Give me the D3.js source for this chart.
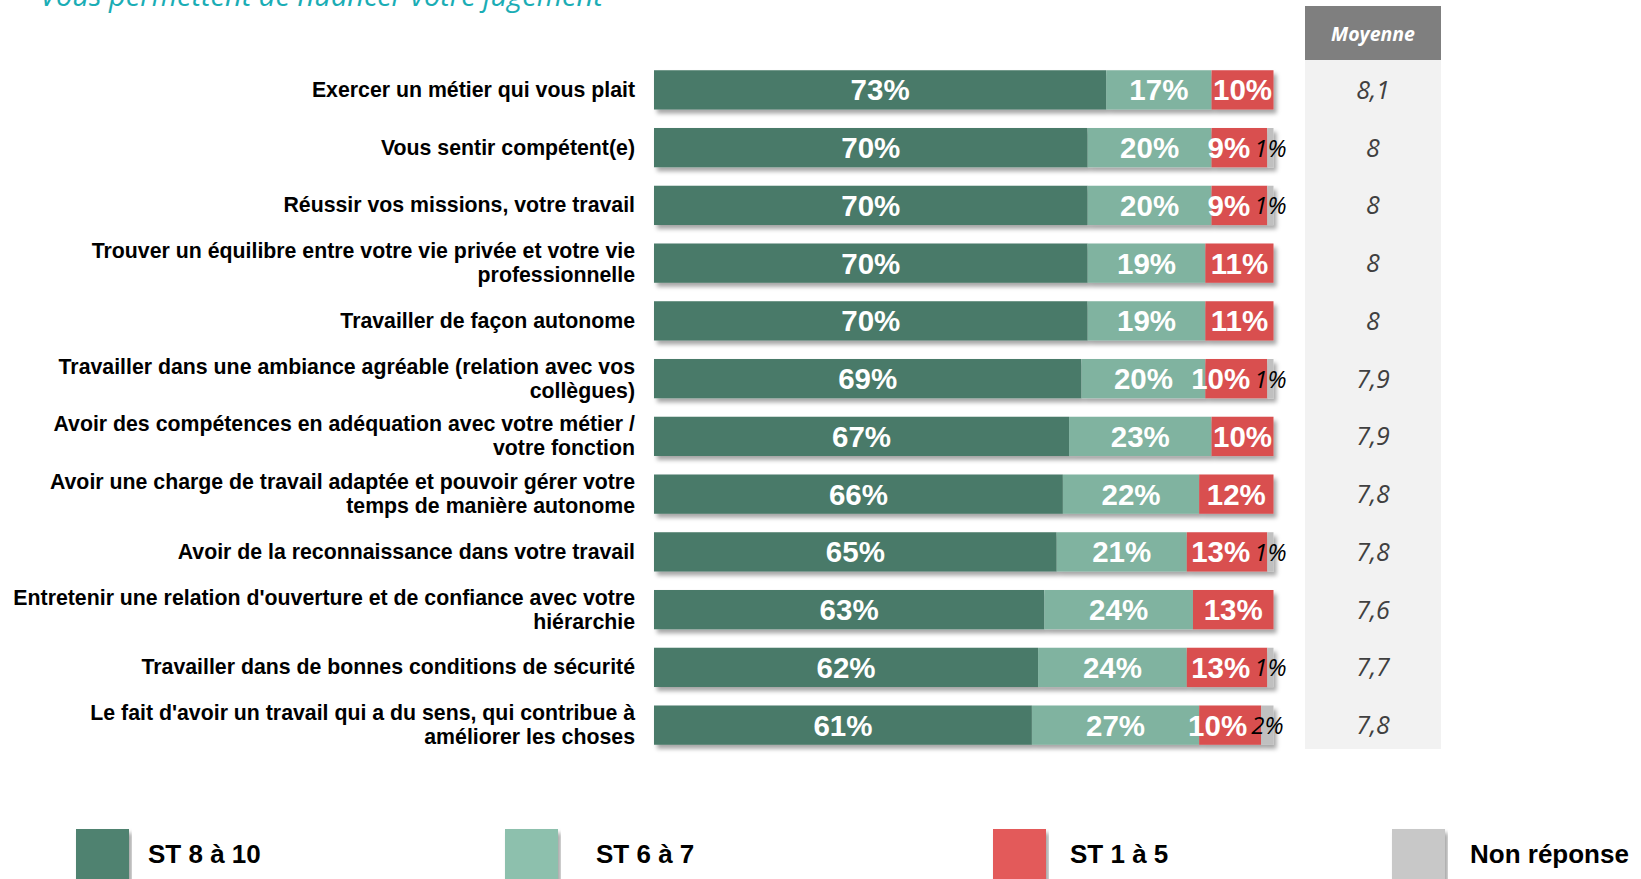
<!DOCTYPE html>
<html>
<head>
<meta charset="utf-8">
<script src="https://cdn.jsdelivr.net/npm/d3@7"></script>
<style>
  body { margin: 0; background: #fff; }
  svg { display: block; }
</style>
</head>
<body>
<svg id="chart"></svg>
<script>
// data
const labels = [
  ["Exercer un métier qui vous plait"],
  ["Vous sentir compétent(e)"],
  ["Réussir vos missions, votre travail"],
  ["Trouver un équilibre entre votre vie privée et votre vie", "professionnelle"],
  ["Travailler de façon autonome"],
  ["Travailler dans une ambiance agréable (relation avec vos", "collègues)"],
  ["Avoir des compétences en adéquation avec votre métier /", "votre fonction"],
  ["Avoir une charge de travail adaptée et pouvoir gérer votre", "temps de manière autonome"],
  ["Avoir de la reconnaissance dans votre travail"],
  ["Entretenir une relation d'ouverture et de confiance avec votre", "hiérarchie"],
  ["Travailler dans de bonnes conditions de sécurité"],
  ["Le fait d'avoir un travail qui a du sens, qui contribue à", "améliorer les choses"]
];
const st8a10 = [73, 70, 70, 70, 70, 69, 67, 66, 65, 63, 62, 61];
const st6a7 = [17, 20, 20, 19, 19, 20, 23, 22, 21, 24, 24, 27];
const st1a5 = [10, 9, 9, 11, 11, 10, 10, 12, 13, 13, 13, 10];
const nonReponse = [0, 1, 1, 0, 0, 1, 0, 0, 1, 0, 1, 2];
const moyenne = ["8,1", "8", "8", "8", "8", "7,9", "7,9", "7,8", "7,8", "7,6", "7,7", "7,8"];
const seriesNames = ["ST 8 à 10", "ST 6 à 7", "ST 1 à 5", "Non réponse"];
const title = "Vous permettent de nuancer votre jugement";

const W = 1641, H = 879;
const barColors = ["#4a7a69", "#80b3a0", "#d94f50", "#c0c0c0"];
const legendColors = ["#4f8270", "#8dc0ad", "#e35a5a", "#c8c8c8"];

const svg = d3.select("#chart").attr("width", W).attr("height", H);

// drop shadow for the bars
const defs = svg.append("defs");
defs.append("filter").attr("id", "shadow")
  .attr("x", "-5%").attr("y", "-20%").attr("width", "110%").attr("height", "160%")
  .append("feDropShadow")
    .attr("dx", 3).attr("dy", 4).attr("stdDeviation", 2)
    .attr("flood-color", "#000").attr("flood-opacity", 0.35);

const idx = d3.range(labels.length);
const y = d3.scaleBand().domain(idx).range([61, 754]).paddingInner(0.32).paddingOuter(0.16);
const x = d3.scaleLinear().domain([0, 100]).range([654, 1273.5]);

// title (cut off at top in the reference)
svg.append("text")
  .attr("x", 40).attr("y", 6)
  .attr("font-family", "Open Sans").attr("font-style", "italic")
  .attr("font-size", 29).attr("fill", "#1aadb5")
  .text(title);

// Moyenne column
const mx0 = 1305, mx1 = 1441;
svg.append("rect").attr("x", mx0).attr("y", 60).attr("width", mx1 - mx0).attr("height", 689).attr("fill", "#f2f2f2");
svg.append("rect").attr("x", mx0).attr("y", 6).attr("width", mx1 - mx0).attr("height", 54).attr("fill", "#7f7f7f");
svg.append("text")
  .attr("x", (mx0 + mx1) / 2).attr("y", 41).attr("text-anchor", "middle")
  .attr("font-family", "Open Sans").attr("font-style", "italic").attr("font-weight", "bold")
  .attr("font-size", 19.5).attr("fill", "#fff")
  .text("Moyenne");

svg.append("g").selectAll("text").data(idx).join("text")
  .attr("x", (mx0 + mx1) / 2)
  .attr("y", i => y(i) + y.bandwidth() / 2 + 9)
  .attr("text-anchor", "middle")
  .attr("font-family", "Open Sans").attr("font-style", "italic")
  .attr("font-size", 25).attr("fill", "#404040")
  .text(i => moyenne[i]);

// category labels
const lab = svg.append("g").selectAll("text").data(idx).join("text")
  .attr("text-anchor", "end")
  .attr("font-family", "Liberation Sans, Arial, sans-serif").attr("font-weight", "bold")
  .attr("font-size", 21.3).attr("fill", "#000");
lab.each(function(i) {
  const lines = labels[i];
  const cy = y(i) + y.bandwidth() / 2;
  const top = cy - (lines.length - 1) * 12 + 7;
  d3.select(this).selectAll("tspan").data(lines).join("tspan")
    .attr("x", 635)
    .attr("y", (d, k) => top + k * 24)
    .text(d => d);
});

// stacked bars
const rows = idx.map(i => ({ i, vals: [st8a10[i], st6a7[i], st1a5[i], nonReponse[i]] }));
const segs = [];
rows.forEach(r => {
  let acc = 0;
  r.vals.forEach((v, s) => {
    segs.push({ i: r.i, s, v, x0: acc, x1: acc + v });
    acc += v;
  });
});

const barG = svg.append("g");
barG.selectAll("g").data(rows).join("g")
  .attr("filter", "url(#shadow)")
  .selectAll("rect").data(r => segs.filter(d => d.i === r.i && d.v > 0)).join("rect")
    .attr("x", d => x(d.x0))
    .attr("y", d => y(d.i))
    .attr("width", d => x(d.x1) - x(d.x0))
    .attr("height", y.bandwidth())
    .attr("fill", d => barColors[d.s]);

// value labels
const vl = svg.append("g").selectAll("text").data(segs.filter(d => d.v > 0)).join("text")
  .attr("x", d => x((d.x0 + d.x1) / 2))
  .attr("y", d => y(d.i) + y.bandwidth() / 2 + (d.s === 3 ? 9 : 10.5))
  .attr("text-anchor", "middle")
  .attr("font-family", d => d.s === 3 ? "Open Sans" : "Liberation Sans, Arial, sans-serif")
  .attr("font-style", d => d.s === 3 ? "italic" : "normal")
  .attr("font-weight", d => d.s === 3 ? "normal" : "bold")
  .attr("font-size", d => d.s === 3 ? 24 : 29.5)
  .attr("fill", d => d.s === 3 ? "#000" : "#fff")
  .text(d => d.v + "%");

// like the original, push the red label left so it clears the non-response label
vl.filter(d => d.s === 3).each(function(d) {
  const box = this.getBBox();
  vl.filter(e => e.i === d.i && e.s === 2).each(function(e) {
    const w = this.getComputedTextLength();
    const cx = Math.min(x((e.x0 + e.x1) / 2), box.x - 4 - w / 2);
    d3.select(this).attr("x", cx);
  });
});

// legend
const legX = [76, 505, 993, 1392];
const legTextX = [148, 596, 1070, 1470];
const leg = svg.append("g").selectAll("g").data(seriesNames).join("g");
leg.append("rect")
  .attr("x", (d, k) => legX[k]).attr("y", 829)
  .attr("width", 53).attr("height", 55)
  .attr("fill", (d, k) => legendColors[k])
  .attr("filter", "url(#shadow)");
leg.append("text")
  .attr("x", (d, k) => legTextX[k]).attr("y", 863)
  .attr("font-family", "Liberation Sans, Arial, sans-serif").attr("font-weight", "bold")
  .attr("font-size", 26).attr("fill", "#000")
  .text(d => d);
</script>
</body>
</html>
